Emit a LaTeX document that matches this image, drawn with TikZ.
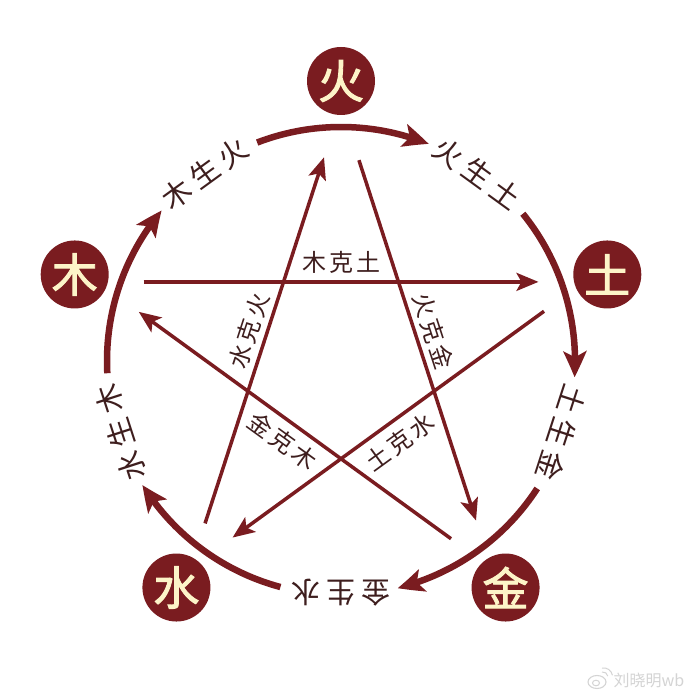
\documentclass[tikz,border=0pt]{standalone}
\usepackage{fontspec}
\newfontfamily\cjk{Noto Sans CJK SC}
\newfontfamily\cjkb{Noto Sans CJK SC}[FakeBold=2]
\usetikzlibrary{arrows.meta,bending}
\definecolor{wx}{RGB}{122,28,32}
\definecolor{cream}{RGB}{253,244,200}
\definecolor{txt}{RGB}{62,30,30}
\definecolor{wmk}{RGB}{212,212,212}
\begin{document}
\begin{tikzpicture}[x=1pt,y=1pt,
  elem/.style={circle, fill=wx, minimum size=68pt, inner sep=0pt, text=cream, font=\cjkb\fontsize{46}{46}\selectfont},
  outlbl/.style={text=txt, font=\cjk\fontsize{29}{29}\selectfont, inner sep=0pt},
  inlbl/.style={text=txt, font=\cjk\fontsize{24}{24}\selectfont, inner sep=0pt},
  sheng/.style={draw=wx, line width=6.5pt, -{Stealth[length=26pt,width=23pt,inset=6pt,bend]}},
  ke/.style={draw=wx, line width=3.5pt, -{Stealth[length=22pt,width=18pt,inset=5pt]}},
  wmtext/.style={text=wmk, font=\cjk\fontsize{16}{16}\selectfont, inner sep=0pt}
]
\fill[white] (-341,-339) rectangle (359,361);
\useasboundingbox (-341,-339) rectangle (359,361);

% element circles
\node[elem] (nHuo)   at (90:280pt)   {火};
\node[elem] (nTu)    at (18:280pt)   {土};
\node[elem] (nJin)   at (-54:280pt)  {金};
\node[elem] (nShui)  at (-126:280pt) {水};
\node[elem] (nMu)    at (162:280pt)  {木};

% generating cycle arcs
\coordinate (s1) at (111:234pt);
\coordinate (s2) at (39:234pt);
\coordinate (s3) at (-33:234pt);
\coordinate (s4) at (-105:234pt);
\coordinate (s5) at (183:234pt);
\draw[sheng] (s1) arc[start angle=111, end angle=68, radius=234pt];
\draw[sheng] (s2) arc[start angle=39, end angle=-4, radius=234pt];
\draw[sheng] (s3) arc[start angle=-33, end angle=-76, radius=234pt];
\draw[sheng] (s4) arc[start angle=-105, end angle=-148, radius=234pt];
\draw[sheng] (s5) arc[start angle=183, end angle=140, radius=234pt];

% generating labels
\node[outlbl, rotate=-36]  (lHT) at (54:232pt)   {火\kern6pt 生\kern6pt 土};
\node[outlbl, rotate=-108] (lTJ) at (-18:232pt)  {土\kern6pt 生\kern6pt 金};
\node[outlbl, rotate=-180] (lJS) at (-90:232pt)  {金\kern6pt 生\kern6pt 水};
\node[outlbl, rotate=108]  (lSM) at (-162:232pt) {水\kern6pt 生\kern6pt 木};
\node[outlbl, rotate=36]   (lMH) at (126:232pt)  {木\kern6pt 生\kern6pt 火};

% pentagram vertices
\coordinate (pH) at (90:256pt);
\coordinate (pT) at (18:256pt);
\coordinate (pJ) at (-54:256pt);
\coordinate (pS) at (-126:256pt);
\coordinate (pM) at (162:256pt);

% controlling cycle
\draw[ke, shorten <=46pt, shorten >=46pt] (pM) -- (pT);
\draw[ke, shorten <=58pt, shorten >=50pt] (pH) -- (pJ);
\draw[ke, shorten <=50pt, shorten >=52pt] (pT) -- (pS);
\draw[ke, shorten <=50pt, shorten >=51pt] (pJ) -- (pM);
\draw[ke, shorten <=47pt, shorten >=55pt] (pS) -- (pH);

% controlling labels
\node[inlbl]             (kMT) at (90:99pt)   {木\kern3pt 克\kern3pt 土};
\node[inlbl, rotate=72]  (kSH) at (162:97pt)  {水\kern3pt 克\kern3pt 火};
\node[inlbl, rotate=-72] (kHJ) at (18:97pt)   {火\kern3pt 克\kern3pt 金};
\node[inlbl, rotate=-36] (kJM) at (-126:99pt) {金\kern3pt 克\kern3pt 木};
\node[inlbl, rotate=36]  (kTS) at (-54:100pt) {土\kern3pt 克\kern3pt 水};

% watermark
\node[wmtext] (wmk) at (308,-319) {刘晓明wb};
\draw[wmk, line width=1.1pt] (256,-321) ellipse (9pt and 6.5pt);
\draw[wmk, line width=1pt] (255,-322) ellipse (3.5pt and 2.8pt);
\draw[wmk, line width=1pt] (261,-311) arc[start angle=100, end angle=10, radius=5pt];
\draw[wmk, line width=1pt] (261,-307) arc[start angle=100, end angle=10, radius=9pt];
\end{tikzpicture}
\end{document}
